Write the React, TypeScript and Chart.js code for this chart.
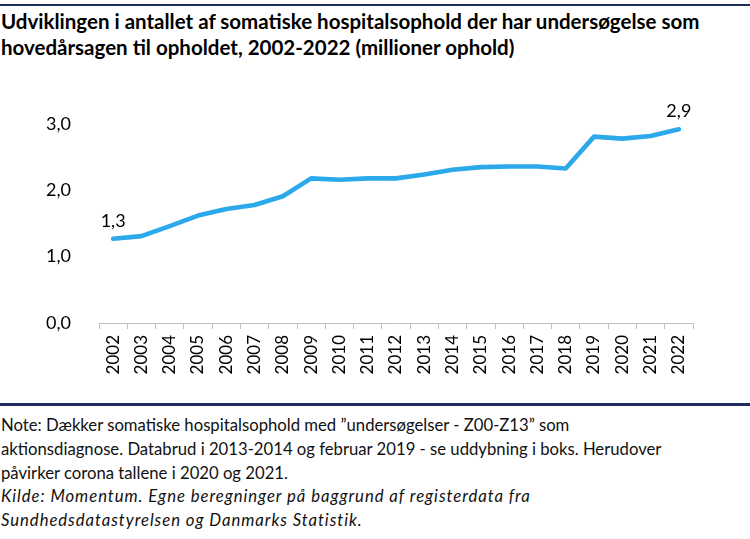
import React, { useEffect, useRef } from "react";
import { Chart, registerables } from "chart.js";

Chart.register(...registerables);

const years = [
  "2002", "2003", "2004", "2005", "2006", "2007", "2008", "2009", "2010", "2011",
  "2012", "2013", "2014", "2015", "2016", "2017", "2018", "2019", "2020", "2021", "2022",
];
const stays = [
  1.27, 1.31, 1.46, 1.62, 1.72, 1.78, 1.91, 2.18, 2.16, 2.18,
  2.18, 2.24, 2.31, 2.35, 2.36, 2.36, 2.33, 2.81, 2.78, 2.82, 2.92,
];
const yTicks = [0, 1, 2, 3];
const labelledIdx = [0, 20];
const labelTexts = ["1,3", "2,9"];

const titleLines = [
  "Udviklingen i antallet af somatiske hospitalsophold der har undersøgelse som",
  "hovedårsagen til opholdet, 2002-2022 (millioner ophold)",
];
const noteLines = [
  "Note: Dækker somatiske hospitalsophold med ”undersøgelser - Z00-Z13” som",
  "aktionsdiagnose. Databrud i 2013-2014 og februar 2019 - se uddybning i boks. Herudover",
  "påvirker corona tallene i 2020 og 2021.",
];
const sourceLines = [
  "Kilde: Momentum. Egne beregninger på baggrund af registerdata fra",
  "Sundhedsdatastyrelsen og Danmarks Statistik.",
];

const fmt = (v: number) => v.toFixed(1).replace(".", ",");

export default function App() {
  const ref = useRef<HTMLCanvasElement | null>(null);

  useEffect(() => {
    if (!ref.current) return;
    const labelPlugin = {
      id: "endLabels",
      afterDatasetsDraw(chart: any) {
        const meta = chart.getDatasetMeta(0);
        const ctx = chart.ctx;
        ctx.save();
        ctx.font = "18px Lato";
        ctx.fillStyle = "#000";
        ctx.textAlign = "center";
        ctx.textBaseline = "middle";
        labelledIdx.forEach((i, k) => {
          const p = meta.data[i];
          ctx.fillText(labelTexts[k], p.x, p.y - 18);
        });
        ctx.restore();
      },
    };
    const chart = new Chart(ref.current, {
      type: "line",
      data: {
        labels: years,
        datasets: [
          {
            data: stays,
            borderColor: "#2BA9EA",
            borderWidth: 4.6,
            pointRadius: 0,
            tension: 0,
            borderCapStyle: "round",
            borderJoinStyle: "round",
            fill: false,
          },
        ],
      },
      options: {
        responsive: false,
        animation: false,
        devicePixelRatio: 1,
        layout: { padding: { top: 44, right: 57, left: 0, bottom: 0 } },
        plugins: {
          legend: { display: false },
          tooltip: { enabled: false },
          title: { display: false },
        },
        scales: {
          x: {
            type: "category",
            offset: true,
            grid: {
              display: true,
              drawOnChartArea: false,
              drawTicks: true,
              tickLength: 6,
              color: "#BFBFBF",
              offset: true,
            },
            border: { display: true, color: "#BFBFBF", width: 1 },
            ticks: {
              autoSkip: false,
              minRotation: 90,
              maxRotation: 90,
              padding: 6,
              color: "#000",
              font: { family: "Lato", size: 17 },
            },
            afterFit: (s: any) => {
              s.height = 77;
            },
          },
          y: {
            min: 0,
            max: 3,
            grid: { display: false },
            border: { display: false },
            afterBuildTicks: (s: any) => {
              s.ticks = yTicks.map((v) => ({ value: v }));
            },
            ticks: {
              stepSize: 1,
              padding: 20,
              color: "#000",
              font: { family: "Lato", size: 18 },
              callback: (v: any) => fmt(Number(v)),
            },
            afterFit: (s: any) => {
              s.width = 99;
            },
          },
        },
      },
      plugins: [labelPlugin],
    } as any);
    return () => chart.destroy();
  }, []);

  const textColor = "#111";
  return (
    <div style={{ position: "absolute", left: 0, top: 0, width: 750, height: 539, background: "#fff", overflow: "hidden" }}>
      <div style={{ position: "absolute", left: 0, top: 3.5, width: 750, height: 2.5, background: "#1F2D5E" }} />
      {titleLines.map((t, i) => (
        <div
          key={"t" + i}
          style={{
            position: "absolute",
            left: 1,
            top: 9 + i * 26,
            lineHeight: "24.5px",
            fontFamily: "Lato",
            fontWeight: 700,
            fontSize: 20.5,
            color: "#000",
            whiteSpace: "nowrap",
          }}
        >
          {t}
        </div>
      ))}
      <canvas
        ref={ref}
        width={750}
        height={320}
        style={{ position: "absolute", left: 0, top: 80, width: 750, height: 320 }}
      />
      <div style={{ position: "absolute", left: 0, top: 403, width: 750, height: 2.5, background: "#1F2D5E" }} />
      {noteLines.concat(sourceLines).map((t, i) => {
        const italic = i >= noteLines.length;
        return (
          <div
            key={"n" + i}
            style={{
              position: "absolute",
              left: 1,
              top: 414 + i * 23.8,
              lineHeight: "23.7px",
              fontFamily: "Lato",
              fontSize: 16.7,
              fontStyle: italic ? "italic" : "normal",
              letterSpacing: italic ? "0.95px" : "0px",
              color: textColor,
              whiteSpace: "nowrap",
            }}
          >
            {t}
          </div>
        );
      })}
    </div>
  );
}
